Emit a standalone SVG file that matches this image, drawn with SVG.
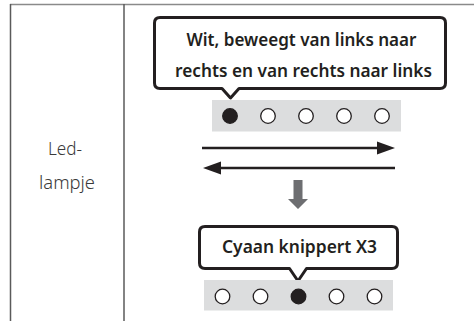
<svg xmlns="http://www.w3.org/2000/svg" width="474" height="321" viewBox="0 0 474 321">
<style>
.grid{stroke:#5a5a5a;stroke-width:1.5;fill:none}
.bubble{fill:#fff;stroke:#231f20;stroke-width:3;stroke-linejoin:round}
.btxt{font-family:"Noto Sans","Open Sans",sans-serif;font-weight:600;font-size:17px;fill:#231f20;text-anchor:middle}
.ltxt{font-family:"Noto Sans","Open Sans",sans-serif;font-weight:300;font-size:18px;fill:#3a3a3a;text-anchor:middle}
.strip{fill:#dcddde}
.off{fill:#fff;stroke:#231f20;stroke-width:1.3}
.on{fill:#231f20;stroke:#231f20;stroke-width:1.3}
.ln{stroke:#231f20;stroke-width:2.5;fill:none}
.head{fill:#231f20}
</style>
<g id="table">
<line x1="10" y1="4.5" x2="474" y2="4.5" stroke="#8a8a8a" stroke-width="1.5"/>
<line class="grid" x1="10.5" y1="4" x2="10.5" y2="321"/>
<line class="grid" x1="124" y1="4" x2="124" y2="321"/>
</g>
<g id="label">
<text class="ltxt" x="65" y="155" textLength="34" lengthAdjust="spacingAndGlyphs">Led-</text>
<text class="ltxt" x="67" y="189" textLength="56" lengthAdjust="spacingAndGlyphs">lampje</text>
</g>
<g id="bubble1">
<path class="bubble" d="M160,17.5 H440 Q445.5,17.5 445.5,23 V83 Q445.5,88.5 440,88.5 H239 L230.5,98 L222,88.5 H160 Q154.5,88.5 154.5,83 V23 Q154.5,17.5 160,17.5 Z"/>
<text class="btxt" x="301.5" y="46" textLength="230" lengthAdjust="spacingAndGlyphs">Wit, beweegt van links naar</text>
<text class="btxt" x="303.5" y="76.5" textLength="257" lengthAdjust="spacingAndGlyphs">rechts en van rechts naar links</text>
</g>
<g id="strip1">
<rect class="strip" x="212" y="100" width="189" height="31.5"/>
<circle class="on" cx="230" cy="116" r="7.3"/>
<circle class="off" cx="268" cy="116" r="7.3"/>
<circle class="off" cx="306" cy="116" r="7.3"/>
<circle class="off" cx="344" cy="116" r="7.3"/>
<circle class="off" cx="382" cy="116" r="7.3"/>
</g>
<g id="connectors">
<line class="ln" x1="202" y1="148" x2="380" y2="148"/>
<polygon class="head" points="377,141.5 395,148 377,154.5"/>
<line class="ln" x1="218" y1="168" x2="395" y2="168"/>
<polygon class="head" points="221,161.5 203,168 221,174.5"/>
<polygon fill="#6d6e71" points="293.5,180 302.5,180 302.5,199 308,199 298,209 288,199 293.5,199"/>
</g>
<g id="bubble2">
<path class="bubble" d="M205,226.5 H392 Q397.5,226.5 397.5,232 V263 Q397.5,268.5 392,268.5 H306.5 L298,281 L289.5,268.5 H205 Q199.5,268.5 199.5,263 V232 Q199.5,226.5 205,226.5 Z"/>
<text class="btxt" x="299.5" y="253" textLength="155" lengthAdjust="spacingAndGlyphs">Cyaan knippert X3</text>
</g>
<g id="strip2">
<rect class="strip" x="204" y="280" width="189" height="30.5"/>
<circle class="off" cx="222.5" cy="296.5" r="7.3"/>
<circle class="off" cx="260.5" cy="296.5" r="7.3"/>
<circle class="on" cx="298.5" cy="296.5" r="7.3"/>
<circle class="off" cx="336.5" cy="296.5" r="7.3"/>
<circle class="off" cx="374.5" cy="296.5" r="7.3"/>
</g>
</svg>
